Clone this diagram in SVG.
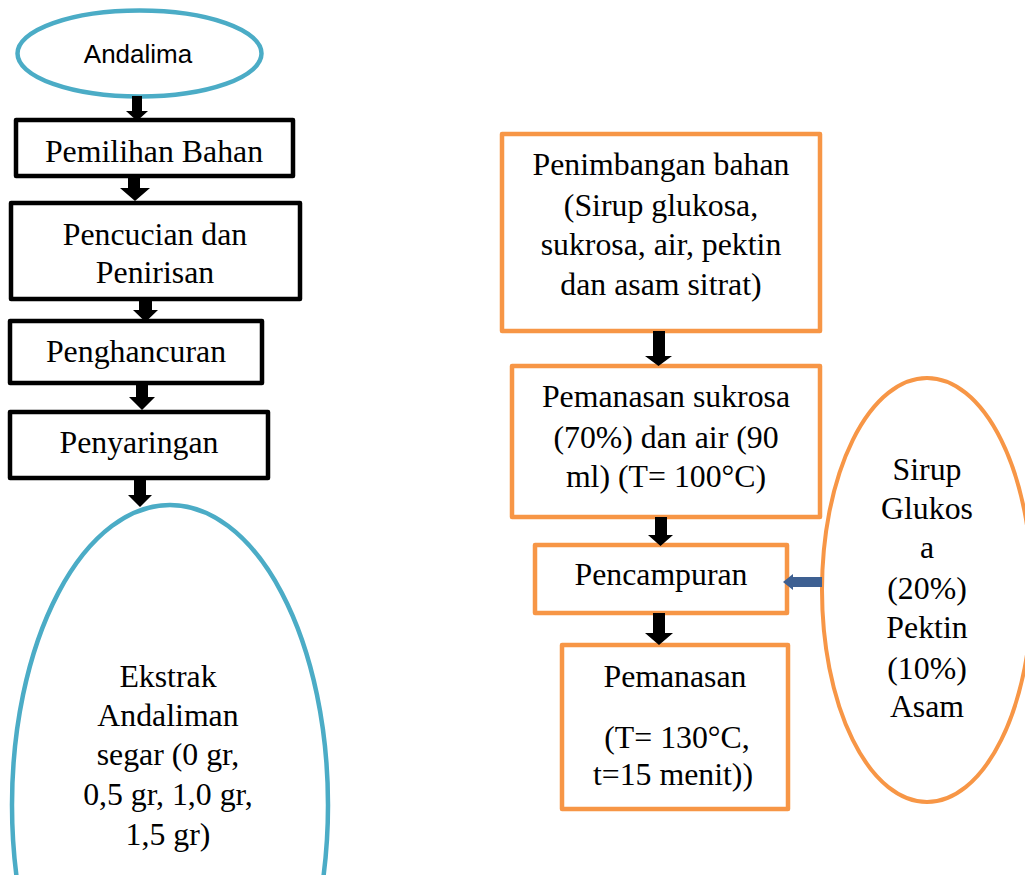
<svg xmlns="http://www.w3.org/2000/svg" width="1025" height="875" viewBox="0 0 1025 875">
<style>
.bg{fill:#fff}
.bk{fill:#fff;stroke:#000;stroke-width:4.5;stroke-linejoin:round}
.or{fill:#fff;stroke:#F79646;stroke-width:4.5;stroke-linejoin:round}
.bl{fill:#fff;stroke:#4BACC6;stroke-width:4.5}
.ol{fill:#fff;stroke:#F79646;stroke-width:4}
.t{font-family:"Liberation Serif","Times New Roman",serif;font-size:31.8px;fill:#000;text-anchor:middle}
.s{font-family:"Liberation Sans",Arial,sans-serif;font-size:26px;fill:#000;text-anchor:middle}
.arr{fill:#000}
.barr{fill:#3E6092}
</style>
<rect class="bg" x="0" y="0" width="1025" height="875"/>
<g id="node-andalima">
<ellipse class="bl" cx="139.5" cy="53.5" rx="122" ry="43"/>
<text class="s" x="138" y="63">Andalima</text>
</g>
<g id="node-pemilihan">
<rect class="bk" x="16" y="120" width="277" height="56"/>
<text class="t" x="154" y="162">Pemilihan Bahan</text>
</g>
<g id="node-pencucian">
<rect class="bk" x="11" y="203" width="289" height="96"/>
<text class="t" x="155" y="245">Pencucian dan</text>
<text class="t" x="155" y="283">Penirisan</text>
</g>
<g id="node-penghancuran">
<rect class="bk" x="10" y="321" width="252" height="62"/>
<text class="t" x="136" y="362">Penghancuran</text>
</g>
<g id="node-penyaringan">
<rect class="bk" x="10" y="412" width="258" height="66"/>
<text class="t" x="139" y="453">Penyaringan</text>
</g>
<g id="node-ekstrak">
<ellipse class="bl" cx="170" cy="805" rx="158" ry="300"/>
<text class="t" x="168" y="687">Ekstrak</text>
<text class="t" x="168" y="726">Andaliman</text>
<text class="t" x="168" y="765">segar (0 gr,</text>
<text class="t" x="168" y="805">0,5 gr, 1,0 gr,</text>
<text class="t" x="168" y="845">1,5 gr)</text>
</g>
<g id="node-penimbangan">
<rect class="or" x="502" y="134" width="318" height="197"/>
<text class="t" x="661" y="175">Penimbangan bahan</text>
<text class="t" x="661" y="216">(Sirup glukosa,</text>
<text class="t" x="661" y="255">sukrosa, air, pektin</text>
<text class="t" x="661" y="295">dan asam sitrat)</text>
</g>
<g id="node-pemanasan-sukrosa">
<rect class="or" x="512" y="366" width="308" height="151"/>
<text class="t" x="666" y="407">Pemanasan sukrosa</text>
<text class="t" x="666" y="448">(70%) dan air (90</text>
<text class="t" x="666" y="487">ml) (T= 100°C)</text>
</g>
<g id="node-pencampuran">
<rect class="or" x="535" y="545" width="252" height="68"/>
<text class="t" x="661" y="585">Pencampuran</text>
</g>
<g id="node-pemanasan">
<rect class="or" x="562" y="645" width="226" height="164"/>
<text class="t" x="675" y="687">Pemanasan</text>
<text class="t" x="677" y="748">(T= 130°C,</text>
<text class="t" x="673" y="785">t=15 menit))</text>
</g>
<g id="node-sirup">
<ellipse class="ol" cx="927" cy="590" rx="105" ry="212"/>
<text class="t" x="927" y="480">Sirup</text>
<text class="t" x="927" y="519">Glukos</text>
<text class="t" x="927" y="558">a</text>
<text class="t" x="927" y="599">(20%)</text>
<text class="t" x="927" y="638">Pektin</text>
<text class="t" x="927" y="679">(10%)</text>
<text class="t" x="927" y="717">Asam</text>
</g>
<g id="connectors">
<path class="arr" d="M132 96 H142 V111 H148 L137 121 L126 111 H132 Z"/>
<path class="arr" d="M128 176 H140 V188 H150 L135 201 L120 188 H128 Z"/>
<path class="arr" d="M139 299 H152 V310 H158 L145.5 322 L133 310 H139 Z"/>
<path class="arr" d="M136 383 H148 V397 H155 L142 410 L129 397 H136 Z"/>
<path class="arr" d="M134 478 H146 V495 H152 L140 507 L128 495 H134 Z"/>
<path class="arr" d="M653 331 H665 V356 H672 L658.5 366 L645 356 H653 Z"/>
<path class="arr" d="M655 517 H667 V535 H673 L660.5 546 L648 535 H655 Z"/>
<path class="arr" d="M653 613 H665 V633 H673 L659 645 L645 633 H653 Z"/>
<path class="barr" d="M822 577 V587 H793 V590 L783 582 L793 574 V577 Z"/>
</g>
</svg>
